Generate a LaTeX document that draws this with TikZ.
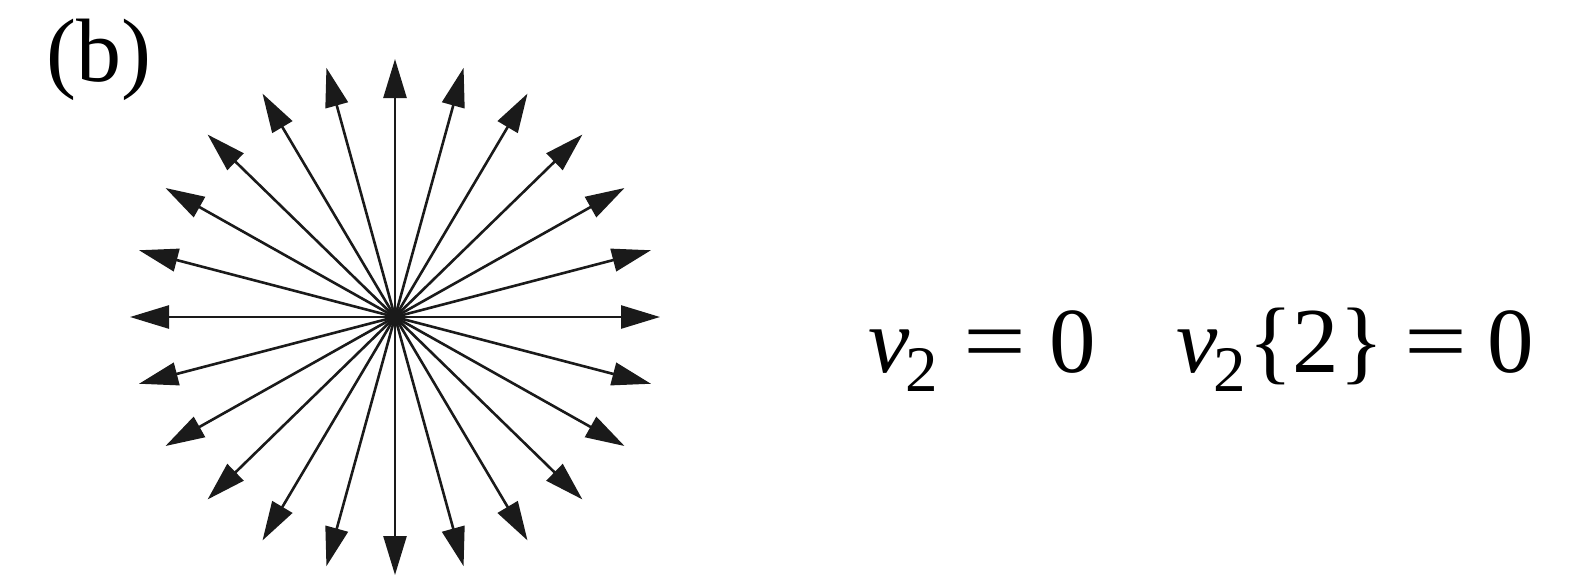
\documentclass[tikz,border=0pt]{standalone}
\usepackage{fontspec}
\setmainfont{Liberation Serif}
\usetikzlibrary{arrows.meta}
\newcommand\subtwo{\raisebox{-0.21em}{\fontsize{32.5pt}{34pt}\selectfont 2}}
\newcommand\wideeq{\scalebox{1.2}[1]{=}}
\begin{document}
\begin{tikzpicture}[x=0.5pt,y=-0.5pt,
  ray/.style={line width=1.3pt, draw={rgb,255:red,26;green,26;blue,26},
    -{Triangle[length=19.5pt,width=11.5pt]}},
  eqtext/.style={anchor=base west, inner sep=0pt, font=\fontsize{46.5pt}{50pt}\selectfont},
  labeltext/.style={anchor=base west, inner sep=0pt, font=\fontsize{45pt}{48pt}\selectfont}]
\useasboundingbox (0,0) rectangle (1583,574);
\coordinate (c) at (395,317);
\foreach \i in {0,...,23}{
  \coordinate (t\i) at ({395+265*cos(15*\i)},{317-258*sin(15*\i)});
  \draw[ray] (c) -- (t\i);
}
\node[labeltext] (lbl) at (46,81) {(b)};
\node[eqtext] (eqa) at (868,372) {\textit{v}\kern-0.04em\subtwo\kern0.27em\wideeq\kern0.25em 0};
\node[eqtext] (eqb) at (1176,372) {\textit{v}\kern-0.04em\subtwo\kern0.02em\{2\}\kern0.22em\wideeq\kern0.22em 0};
\end{tikzpicture}
\end{document}
